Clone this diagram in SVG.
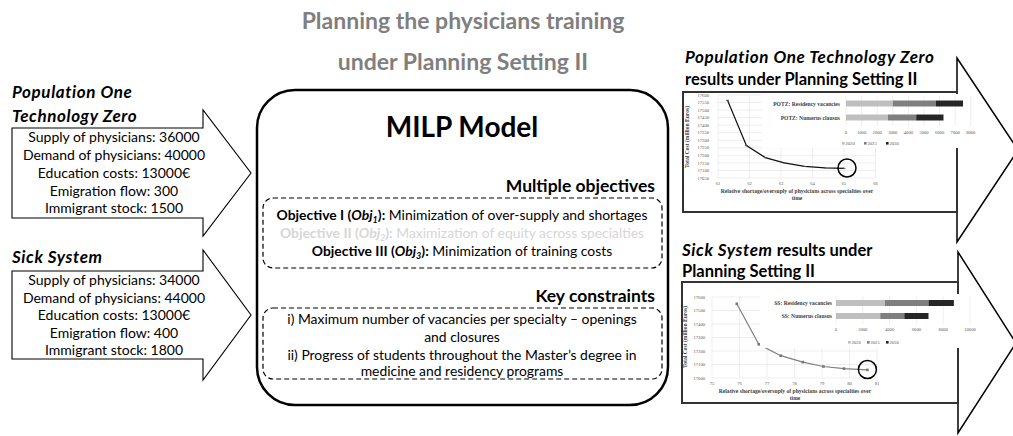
<svg xmlns="http://www.w3.org/2000/svg" width="1013" height="436" viewBox="0 0 1013 436">
  <style>
    .ttl { font-family: Lato, "Liberation Sans", sans-serif; font-weight: bold; font-size: 23px; fill: #7f7f7f; text-anchor: middle; }
    .hdr { font-family: Lato, "Liberation Sans", sans-serif; font-weight: bold; font-size: 16.5px; fill: #000; }
    .it { font-style: italic; }
    .hi { font-style: italic; font-size: 17px; letter-spacing: 0.6px; }
    .inp { font-family: Lato, "Liberation Sans", sans-serif; font-size: 14px; fill: #000; text-anchor: middle; }
    .body { font-family: Lato, "Liberation Sans", sans-serif; font-size: 13.9px; fill: #000; text-anchor: middle; }
    .b { font-weight: bold; }
    .sub { font-weight: bold; font-style: italic; font-size: 9px; }
    .sec { font-family: Lato, "Liberation Sans", sans-serif; font-weight: bold; font-size: 17.5px; fill: #000; text-anchor: end; }
    .milp { font-family: Lato, "Liberation Sans", sans-serif; font-weight: bold; font-size: 28px; fill: #000; text-anchor: middle; }
    .arrow { fill: #fff; stroke: #000; stroke-width: 1.1; stroke-linejoin: miter; }
    .arrow-out { fill: #fff; stroke: #000; stroke-width: 1.5; stroke-linejoin: miter; }
    .frame { fill: none; stroke: #333; stroke-width: 2; }
    .dash { fill: none; stroke: #000; stroke-width: 1.2; stroke-dasharray: 5 3; }
    .tick { font-family: "Liberation Serif", serif; font-size: 4.6px; fill: #595959; }
    .axt { font-family: "Liberation Serif", serif; font-size: 5.6px; font-weight: bold; fill: #404040; }
    .grid { stroke: #dcdcdc; stroke-width: 0.5; fill: none; }
    .c1 { fill: #bfbfbf; }
    .c2 { fill: #7f7f7f; }
    .c3 { fill: #262626; }
  </style>

  <!-- heading -->
  <g id="title">
    <text class="ttl" x="463" y="29">Planning the physicians training</text>
    <text class="ttl" x="463" y="70">under Planning Setting II</text>
  </g>

  <!-- block arrows carrying data into and out of the model -->
  <g id="connectors">
    <polygon id="arrow-potz-in" class="arrow" points="12,128 203,128 203,110 251,173 203,236 203,218 12,218"/>
    <polygon id="arrow-ss-in" class="arrow" points="12,271 203,271 203,250 251,315 203,380 203,359 12,359"/>
    <polygon id="arrow-potz-out" class="arrow-out" points="683,92 957,92 957,58 1018,150 957,242 957,212 683,212"/>
    <polygon id="arrow-ss-out" class="arrow-out" points="682,282 958,282 958,252 1016,343 958,433 958,403 682,403"/>
  </g>

  <!-- input scenario: Population One Technology Zero -->
  <g id="node-potz-input">
    <text class="hdr hi" x="12" y="98">Population One</text>
    <text class="hdr hi" x="12" y="122">Technology Zero</text>
    <text class="inp" x="114" y="142">Supply of physicians:  36000</text>
    <text class="inp" x="114" y="160">Demand of physicians: 40000</text>
    <text class="inp" x="114" y="178">Education costs: 13000€</text>
    <text class="inp" x="114" y="195.5">Emigration flow: 300</text>
    <text class="inp" x="114" y="213">Immigrant stock: 1500</text>
  </g>

  <!-- input scenario: Sick System -->
  <g id="node-ss-input">
    <text class="hdr hi" x="12" y="263">Sick System</text>
    <text class="inp" x="114" y="285">Supply of physicians:  34000</text>
    <text class="inp" x="114" y="302.5">Demand of physicians: 44000</text>
    <text class="inp" x="114" y="320">Education costs: 13000€</text>
    <text class="inp" x="114" y="337.5">Emigration flow: 400</text>
    <text class="inp" x="114" y="355">Immigrant stock: 1800</text>
  </g>

  <!-- optimisation model -->
  <g id="node-milp">
    <rect x="257" y="90" width="411" height="315" rx="38" ry="38" fill="#fff" stroke="#000" stroke-width="2.5"/>
    <text class="milp" x="462" y="137">MILP Model</text>

    <text class="sec" x="655" y="192">Multiple objectives</text>
    <rect class="dash" x="263" y="198" width="399" height="70" rx="10" ry="10"/>
    <text class="body" x="462" y="220"><tspan class="b">Objective I (</tspan><tspan class="b it">Obj</tspan><tspan class="sub" baseline-shift="-2.5">1</tspan><tspan class="b">):</tspan> Minimization of over-supply and shortages</text>
    <text class="body" x="462" y="238" style="fill:#d6d6d6"><tspan class="b">Objective II (</tspan><tspan class="b it">Obj</tspan><tspan class="sub" baseline-shift="-2.5">2</tspan><tspan class="b">):</tspan> Maximization of equity across specialties</text>
    <text class="body" x="462" y="256"><tspan class="b">Objective III (</tspan><tspan class="b it">Obj</tspan><tspan class="sub" baseline-shift="-2.5">3</tspan><tspan class="b">):</tspan> Minimization of training costs</text>

    <text class="sec" x="655" y="302">Key constraints</text>
    <rect class="dash" x="263" y="308" width="399" height="71" rx="10" ry="10"/>
    <text class="body" x="462" y="324">i) Maximum number of vacancies per specialty – openings</text>
    <text class="body" x="462" y="342">and closures</text>
    <text class="body" x="462" y="360">ii) Progress of students throughout the Master’s degree in</text>
    <text class="body" x="462" y="376">medicine and residency programs</text>
  </g>

  <!-- results: Population One Technology Zero -->
  <g id="node-potz-results">
    <text class="hdr hi" x="685" y="63">Population One Technology Zero</text>
    <text class="hdr" x="685" y="85">results under Planning Setting II</text>
    <rect class="frame" x="683" y="92" width="274" height="120"/>

    <!-- cost vs. shortage curve -->
    <g class="grid">
      <path d="M718,95H876M718,102.5H876M718,110.1H876M718,117.6H876M718,125.2H876M718,132.7H876M718,140.3H876M718,147.8H876M718,155.4H876M718,162.9H876M718,170.5H876M718,178H876"/>
      <path d="M718,95V178M749.5,95V178M781,95V178M812.5,95V178M844,95V178M875.5,95V178"/>
    </g>
    <g class="tick" text-anchor="end">
      <text x="709" y="96.6">17600</text><text x="709" y="104.1">17550</text><text x="709" y="111.7">17500</text>
      <text x="709" y="119.2">17450</text><text x="709" y="126.8">17400</text><text x="709" y="134.3">17350</text>
      <text x="709" y="141.9">17300</text><text x="709" y="149.4">17250</text><text x="709" y="157">17200</text>
      <text x="709" y="164.5">17150</text><text x="709" y="172.1">17100</text><text x="709" y="179.6">17050</text>
    </g>
    <g class="tick" text-anchor="middle">
      <text x="718" y="185">61</text><text x="749.5" y="185">62</text><text x="781" y="185">63</text>
      <text x="812.5" y="185">64</text><text x="844" y="185">65</text><text x="875.5" y="185">66</text>
    </g>
    <text class="axt" x="797" y="193" text-anchor="middle">Relative shortage/oversuply of physicians across specialties over</text>
    <text class="axt" x="797" y="200" text-anchor="middle">time</text>
    <text class="axt" transform="translate(689,137) rotate(-90)" text-anchor="middle">Total Cost (million Euros)</text>
    <polyline points="727.5,100.3 746.4,145.6 765.3,157.6 784.2,162.9 804.6,166.4 825.1,167.9 844,168.3" fill="none" stroke="#111" stroke-width="1.2"/>
    <g fill="#555">
      <rect x="726" y="99.8" width="3" height="1"/><rect x="744.9" y="145.1" width="3" height="1"/>
      <rect x="763.8" y="157.1" width="3" height="1"/><rect x="782.7" y="162.4" width="3" height="1"/>
      <rect x="803.1" y="165.9" width="3" height="1"/><rect x="823.6" y="167.4" width="3" height="1"/>
      <rect x="842.5" y="167.8" width="3" height="1"/>
    </g>
    <circle cx="847" cy="168" r="9" fill="none" stroke="#000" stroke-width="1.5"/>

    <!-- vacancies bar chart -->
    <rect x="762" y="94" width="214" height="54" fill="#fff"/>
    <path class="grid" d="M846,96V126M861.6,96V126M877.2,96V126M892.8,96V126M908.4,96V126M924,96V126M939.6,96V126M955.2,96V126M970.8,96V126"/>
    <text class="axt" x="840" y="105.5" text-anchor="end">POTZ: Residency vacancies</text>
    <text class="axt" x="840" y="119.5" text-anchor="end">POTZ: Numerus clausus</text>
    <rect class="c1" x="846" y="100.5" width="46.8" height="6"/>
    <rect class="c2" x="892.8" y="100.5" width="42.9" height="6"/>
    <rect class="c3" x="935.7" y="100.5" width="27.3" height="6"/>
    <rect class="c1" x="846" y="114.5" width="42" height="6"/>
    <rect class="c2" x="888" y="114.5" width="28.2" height="6"/>
    <rect class="c3" x="916.2" y="114.5" width="27.3" height="6"/>
    <g class="tick" text-anchor="middle">
      <text x="846" y="134">0</text><text x="861.6" y="134">1000</text><text x="877.2" y="134">2000</text>
      <text x="892.8" y="134">3000</text><text x="908.4" y="134">4000</text><text x="924" y="134">5000</text>
      <text x="939.6" y="134">6000</text><text x="955.2" y="134">7000</text><text x="970.8" y="134">8000</text>
    </g>
    <rect class="c1" x="842" y="142" width="2.6" height="2.6"/><text class="tick" x="845.5" y="145">2020</text>
    <rect class="c2" x="864" y="142" width="2.6" height="2.6"/><text class="tick" x="867.5" y="145">2025</text>
    <rect class="c3" x="886" y="142" width="2.6" height="2.6"/><text class="tick" x="889.5" y="145">2030</text>
  </g>

  <!-- results: Sick System -->
  <g id="node-ss-results">
    <text class="hdr" x="682" y="256"><tspan class="hi">Sick System</tspan> results under</text>
    <text class="hdr" x="682" y="277">Planning Setting II</text>
    <rect class="frame" x="682" y="282" width="276" height="121"/>

    <!-- cost vs. shortage curve -->
    <g class="grid">
      <path d="M712,297H877M712,310.5H877M712,324H877M712,337.5H877M712,351H877M712,364.5H877M712,378H877"/>
      <path d="M712,297V378M739.5,297V378M767,297V378M794.5,297V378M822,297V378M849.5,297V378M877,297V378"/>
    </g>
    <g class="tick" text-anchor="end">
      <text x="705" y="298.6">17600</text><text x="705" y="312.1">17500</text><text x="705" y="325.6">17400</text>
      <text x="705" y="339.1">17300</text><text x="705" y="352.6">17200</text><text x="705" y="366.1">17100</text>
      <text x="705" y="379.6">17000</text>
    </g>
    <g class="tick" text-anchor="middle">
      <text x="712" y="385">75</text><text x="739.5" y="385">76</text><text x="767" y="385">77</text>
      <text x="794.5" y="385">78</text><text x="822" y="385">79</text><text x="849.5" y="385">80</text>
      <text x="877" y="385">81</text>
    </g>
    <text class="axt" x="795" y="393" text-anchor="middle">Relative shortage/oversuply of physicians across specialties over</text>
    <text class="axt" x="795" y="400" text-anchor="middle">time</text>
    <text class="axt" transform="translate(687,337) rotate(-90)" text-anchor="middle">Total Cost (million Euros)</text>
    <polyline points="736.8,303.8 758.8,344.3 780.8,355.7 802.8,362.1 823.4,366.5 844,368.6 867.4,369.9" fill="none" stroke="#808080" stroke-width="1.2"/>
    <g fill="#777">
      <rect x="735.5" y="302.5" width="2.6" height="2.6"/><rect x="757.5" y="343" width="2.6" height="2.6"/>
      <rect x="779.5" y="354.4" width="2.6" height="2.6"/><rect x="801.5" y="360.8" width="2.6" height="2.6"/>
      <rect x="822.1" y="365.2" width="2.6" height="2.6"/><rect x="842.7" y="367.3" width="2.6" height="2.6"/>
      <rect x="866.1" y="368.6" width="2.6" height="2.6"/>
    </g>
    <circle cx="867.4" cy="369.5" r="9" fill="none" stroke="#000" stroke-width="1.5"/>

    <!-- vacancies bar chart -->
    <rect x="760" y="294" width="220" height="54" fill="#fff"/>
    <path class="grid" d="M836,296V324M862.8,296V324M889.6,296V324M916.4,296V324M943.2,296V324M970,296V324"/>
    <text class="axt" x="832" y="305" text-anchor="end">SS: Residency vacancies</text>
    <text class="axt" x="832" y="318" text-anchor="end">SS: Numerus clausus</text>
    <rect class="c1" x="836" y="300" width="48.9" height="6"/>
    <rect class="c2" x="884.9" y="300" width="43.6" height="6"/>
    <rect class="c3" x="928.5" y="300" width="25.4" height="6"/>
    <rect class="c1" x="836" y="313" width="44.2" height="6"/>
    <rect class="c2" x="880.2" y="313" width="24.1" height="6"/>
    <rect class="c3" x="904.3" y="313" width="24.2" height="6"/>
    <g class="tick" text-anchor="middle">
      <text x="836" y="331">0</text><text x="862.8" y="331">2000</text><text x="889.6" y="331">4000</text>
      <text x="916.4" y="331">6000</text><text x="943.2" y="331">8000</text><text x="970" y="331">10000</text>
    </g>
    <rect class="c1" x="848" y="341" width="2.6" height="2.6"/><text class="tick" x="851.5" y="344">2020</text>
    <rect class="c2" x="867" y="341" width="2.6" height="2.6"/><text class="tick" x="870.5" y="344">2025</text>
    <rect class="c3" x="886" y="341" width="2.6" height="2.6"/><text class="tick" x="889.5" y="344">2030</text>
  </g>
</svg>
